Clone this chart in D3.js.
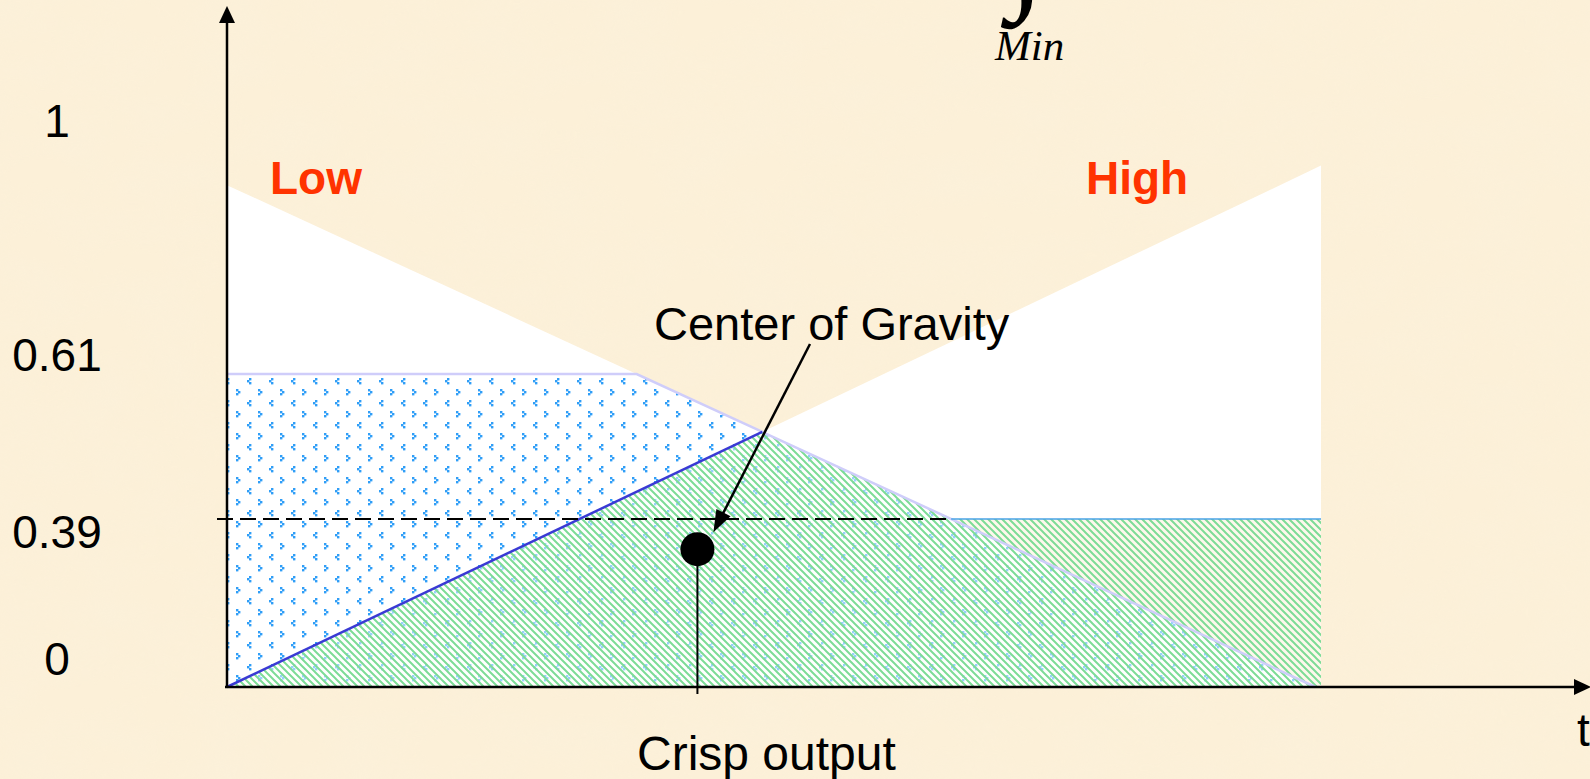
<!DOCTYPE html>
<html>
<head>
<meta charset="utf-8">
<script src="https://cdn.jsdelivr.net/npm/d3@7"></script>
<style>
  html, body { margin: 0; padding: 0; background: #fcf0d8; overflow: hidden; }
  text { font-family: "Liberation Sans", Arial, sans-serif; }
</style>
</head>
<body>
<div id="chart"></div>
<script>
const width = 1590, height = 779;

// membership levels shown on the y axis
const levels = [0, 0.39, 0.61, 1];
const levelLabels = ["0", "0.39", "0.61", "1"];

// fuzzy sets as [t, membership] end points
const lowSet = [[0, 0.90], [0.995, 0]];
const highSet = [[0, 0], [1, 0.93]];
const lowCut = 0.61;
const highCut = 0.39;

// center of gravity of the aggregated area
const cog = [0.43, 0.32];

const setNames = ["Low", "High"];

let svg = d3.select("#chart")
    .append("svg")
    .attr("width", width)
    .attr("height", height);

let x = d3.scaleLinear()
    .domain([0, 1])
    .range([227, 1321]);

// the drawing is not to scale, so the y scale is piecewise
let y = d3.scaleLinear()
    .domain(levels)
    .range([687, 519, 374, 120]);

let defs = svg.append("defs");

// parchment background
let tex = defs.append("filter").attr("id", "paper")
    .attr("x", 0).attr("y", 0).attr("width", "100%").attr("height", "100%");
tex.append("feTurbulence")
    .attr("type", "fractalNoise")
    .attr("baseFrequency", "0.015 0.025")
    .attr("numOctaves", 3)
    .attr("seed", 4);
tex.append("feColorMatrix")
    .attr("type", "matrix")
    .attr("values", "0 0 0 0 0.96  0 0 0 0 0.88  0 0 0 0 0.72  1.1 0 0 0 -0.35");

svg.append("rect")
    .attr("width", width).attr("height", height)
    .attr("fill", "#fcf0d8");
svg.append("rect")
    .attr("width", width).attr("height", height)
    .attr("filter", "url(#paper)")
    .attr("opacity", 0.55);

// blue dot pattern
let dots = defs.append("pattern")
    .attr("id", "dots")
    .attr("patternUnits", "userSpaceOnUse")
    .attr("width", 22).attr("height", 22)
    .attr("x", 242).attr("y", 378);
[[7, 0], [5, 2], [7, 4], [16, 11], [18, 13], [16, 15]].forEach(function(p) {
    dots.append("rect")
        .attr("x", p[0]).attr("y", p[1])
        .attr("width", 2.4).attr("height", 2.4)
        .attr("fill", "#2f9ef7");
});

// green hatch pattern
let hatch = defs.append("pattern")
    .attr("id", "hatch")
    .attr("patternUnits", "userSpaceOnUse")
    .attr("width", 7).attr("height", 7);
hatch.append("rect")
    .attr("width", 7).attr("height", 7)
    .attr("fill", "#ffffff").attr("opacity", 0.5);
hatch.append("path")
    .attr("d", "M-1,-1L8,8M-1,6L1,8M6,-1L8,1")
    .attr("stroke", "#7ddc96")
    .attr("stroke-width", 2);

// helpers in pixel space
function px(p) { return [x(p[0]), y(p[1])]; }
function xAtY(a, b, py) { return a[0] + (py - a[1]) * (b[0] - a[0]) / (b[1] - a[1]); }
function cross(a, b, c, d) {
    let s1 = (b[1] - a[1]) / (b[0] - a[0]), s2 = (d[1] - c[1]) / (d[0] - c[0]);
    let xi = (c[1] - a[1] + s1 * a[0] - s2 * c[0]) / (s1 - s2);
    return [xi, a[1] + s1 * (xi - a[0])];
}

let L0 = px(lowSet[0]), L1 = px(lowSet[1]);
let H0 = px(highSet[0]), H1 = px(highSet[1]);
let y0 = y(0), yLow = y(lowCut), yHigh = y(highCut);
let P = cross(L0, L1, H0, H1);
let lowCutX = xAtY(L0, L1, yLow);
let lowMeetsHigh = xAtY(L0, L1, yHigh);
let highCutX = xAtY(H0, H1, yHigh);
let xEnd = x(1);

let line = d3.line();

// white membership triangles
svg.append("path")
    .attr("d", line([L0, L1, H0]) + "Z")
    .attr("fill", "#ffffff");
svg.append("path")
    .attr("d", line([[highCutX, yHigh], H1, [xEnd, yHigh]]) + "Z")
    .attr("fill", "#ffffff");

// Low clipped at 0.61
svg.append("path")
    .attr("d", line([[x(0), yLow], [lowCutX, yLow], L1, H0]) + "Z")
    .attr("fill", "url(#dots)");

// High clipped at 0.39 (aggregated area)
svg.append("path")
    .attr("d", line([H0, P, [lowMeetsHigh, yHigh], [xEnd, yHigh], [xEnd, y0]]) + "Z")
    .attr("fill", "url(#hatch)");

// outlines
svg.append("path")
    .attr("d", line([[x(0), yLow], [lowCutX, yLow], L1]))
    .attr("fill", "none")
    .attr("stroke", "#cfcdfa")
    .attr("stroke-width", 2.5);
svg.append("path")
    .attr("d", line([[lowMeetsHigh, yHigh], [xEnd, yHigh]]))
    .attr("stroke", "#4aa3e6")
    .attr("stroke-width", 1.5);
svg.append("path")
    .attr("d", line([H0, P]))
    .attr("stroke", "#3a3ad4")
    .attr("stroke-width", 2.5);

// dashed level 0.39
svg.append("path")
    .attr("d", line([[x(0) - 10, yHigh], [lowMeetsHigh, yHigh]]))
    .attr("stroke", "#000")
    .attr("stroke-width", 2)
    .attr("stroke-dasharray", "16,7");

// axes with arrow heads
svg.append("path")
    .attr("d", line([[x(0), y0], [x(0), 20]]))
    .attr("stroke", "#000").attr("stroke-width", 2.5);
svg.append("path")
    .attr("d", line([[x(0), 6], [x(0) - 8, 23], [x(0) + 8, 23]]) + "Z")
    .attr("fill", "#000");
svg.append("path")
    .attr("d", line([[x(0) - 2, y0], [1578, y0]]))
    .attr("stroke", "#000").attr("stroke-width", 2.5);
svg.append("path")
    .attr("d", line([[1591, y0], [1574, y0 - 8], [1574, y0 + 8]]) + "Z")
    .attr("fill", "#000");

// crisp output marker
let c = px(cog);
svg.append("path")
    .attr("d", line([c, [c[0], y0 + 7]]))
    .attr("stroke", "#000").attr("stroke-width", 2);
svg.append("circle")
    .attr("cx", c[0]).attr("cy", c[1]).attr("r", 17)
    .attr("fill", "#000");

// arrow to the center of gravity
let tip = [c[0] + 16, c[1] - 17];
let tail = [810, 344];
let ang = Math.atan2(tip[1] - tail[1], tip[0] - tail[0]);
svg.append("path")
    .attr("d", line([tail, [tip[0] - 16 * Math.cos(ang), tip[1] - 16 * Math.sin(ang)]]))
    .attr("stroke", "#000").attr("stroke-width", 2.5);
svg.append("path")
    .attr("d", line([tip,
        [tip[0] - 22 * Math.cos(ang) + 8 * Math.sin(ang), tip[1] - 22 * Math.sin(ang) - 8 * Math.cos(ang)],
        [tip[0] - 22 * Math.cos(ang) - 8 * Math.sin(ang), tip[1] - 22 * Math.sin(ang) + 8 * Math.cos(ang)]]) + "Z")
    .attr("fill", "#000");

// y labels, nudged like the original slide
const labelNudge = [-12, 29, -3, 17];
svg.selectAll(".lvl")
    .data(levels)
    .enter()
    .append("text")
    .attr("class", "lvl")
    .attr("x", 57)
    .attr("y", function(d, i) { return y(d) + labelNudge[i]; })
    .style("text-anchor", "middle")
    .style("font-size", "46px")
    .attr("fill", "#000")
    .text(function(d, i) { return levelLabels[i]; });

// set names
svg.selectAll(".setname")
    .data(setNames)
    .enter()
    .append("text")
    .attr("class", "setname")
    .attr("x", function(d, i) { return i == 0 ? 270 : 1086; })
    .attr("y", 194)
    .style("font-size", "46px")
    .style("font-weight", "bold")
    .attr("fill", "#ff3300")
    .text(function(d) { return d; });

svg.append("text")
    .attr("x", 654).attr("y", 340)
    .style("font-size", "47px")
    .text("Center of Gravity");

svg.append("text")
    .attr("x", 637).attr("y", 770)
    .style("font-size", "48px")
    .text("Crisp output");

svg.append("text")
    .attr("x", 1577).attr("y", 746)
    .style("font-size", "46px")
    .text("t");

// integral sign cut off at the top
svg.append("text")
    .attr("x", 1026).attr("y", -8)
    .style("text-anchor", "middle")
    .style("font-family", "'Liberation Serif', 'Times New Roman', serif")
    .style("font-size", "140px")
    .style("font-weight", "bold")
    .style("font-style", "italic")
    .text("\u222B");

svg.append("text")
    .attr("x", 995).attr("y", 60)
    .style("font-family", "'Liberation Serif', 'Times New Roman', serif")
    .style("font-size", "43px")
    .style("font-style", "italic")
    .text("Min");
</script>
</body>
</html>
